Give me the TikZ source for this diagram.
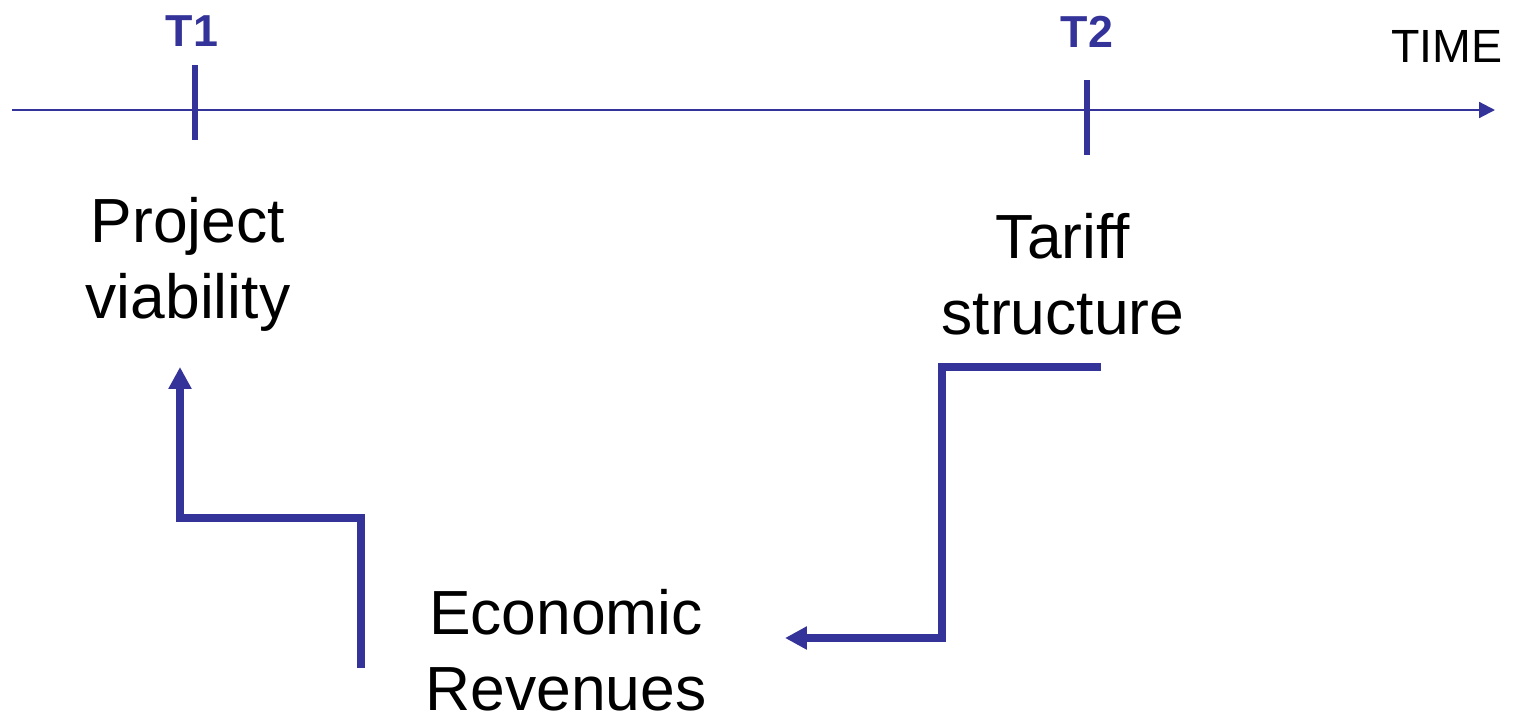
\documentclass[tikz,border=0pt]{standalone}
\usepackage{fontspec}
\setmainfont{Liberation Sans}
\usetikzlibrary{arrows.meta}
\definecolor{pblue}{RGB}{51,51,153}
\tikzset{
  big/.style={font=\fontsize{35.5}{43}\selectfont, align=center, inner sep=0pt, anchor=base},
  tlabel/.style={font=\fontsize{25.5}{30}\selectfont\bfseries, text=pblue, inner sep=0pt, anchor=base},
  tick/.style={draw=pblue, line width=3.4pt},
  flow/.style={draw=pblue, line width=4pt, -{Triangle[length=12.5pt,width=12.5pt]}},
}
\begin{document}
\begin{tikzpicture}[x=0.02cm,y=-0.02cm]
\useasboundingbox (0,0) rectangle (1516,717);
% timeline
\coordinate (tl0) at (12,110);
\coordinate (tl1) at (1495,110);
\draw[pblue, line width=1.2pt, -{Triangle[length=9pt,width=9pt]}] (tl0) -- (tl1);
\node[font=\fontsize{26.5}{30}\selectfont, inner sep=0pt, anchor=base east] (time) at (1503,62) {TIME};
% ticks
\coordinate (t1a) at (195,65); \coordinate (t1b) at (195,140);
\coordinate (t2a) at (1087,80); \coordinate (t2b) at (1087,155);
\draw[tick] (t1a) -- (t1b);
\draw[tick] (t2a) -- (t2b);
\node[tlabel] (T1) at (192,46) {T1};
\node[tlabel] (T2) at (1087,47) {T2};
% texts (base = baseline of last line)
\node[big] (pv) at (188,318) {Project\\viability};
\node[big] (ts) at (1063,334) {Tariff\\structure};
\node[big] (er) at (566,710) {Economic\\Revenues};
% connectors
\coordinate (a0) at (361,668);
\coordinate (a1) at (361,518);
\coordinate (a2) at (180,518);
\coordinate (a3) at (180,367);
\draw[flow] (a0) -- (a1) -- (a2) -- (a3);
\coordinate (b0) at (1101,367);
\coordinate (b1) at (942,367);
\coordinate (b2) at (942,638);
\coordinate (b3) at (785,638);
\draw[flow] (b0) -- (b1) -- (b2) -- (b3);
\end{tikzpicture}
\end{document}
